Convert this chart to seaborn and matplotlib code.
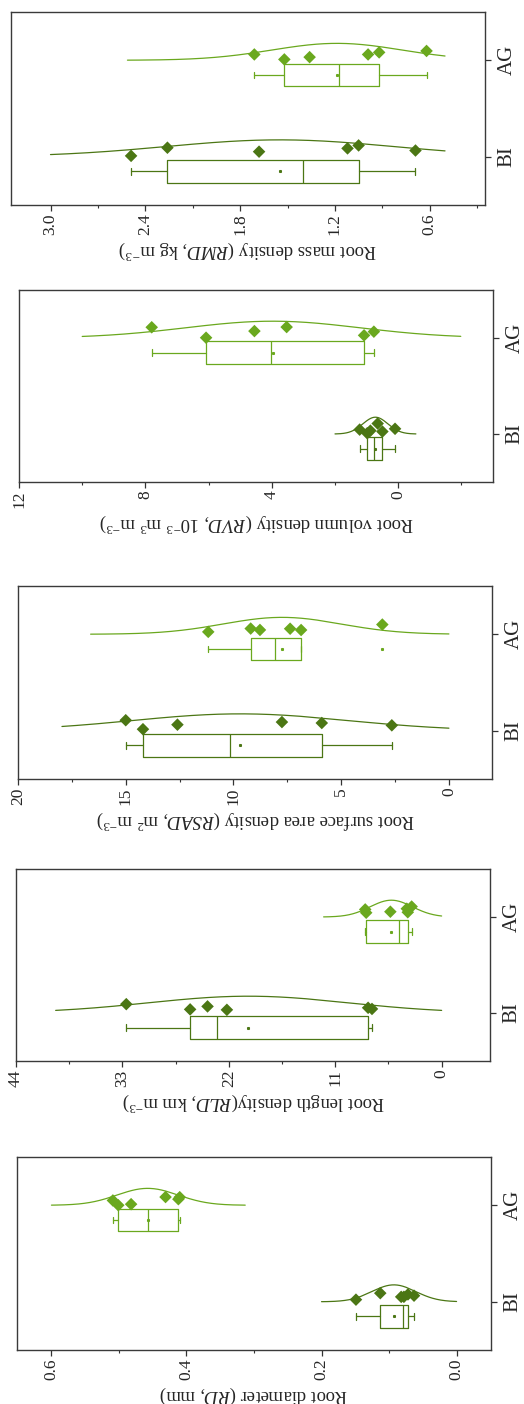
import numpy as np
import pandas as pd
import seaborn as sns
import matplotlib.pyplot as plt

# groups and colours
groups = ['BI', 'AG']
colors = {'BI': '#4b7614', 'AG': '#6aa81e'}

# values (6 plots per group)
rd_bi = [0.149, 0.113, 0.082, 0.078, 0.072, 0.063]
rd_ag = [0.509, 0.501, 0.482, 0.431, 0.412, 0.410]
rld_bi = [32.6, 26.0, 24.2, 22.2, 7.6, 7.2]
rld_ag = [7.9, 7.8, 5.3, 3.6, 3.5, 3.1]
rsad_bi = [15.0, 14.2, 12.6, 7.75, 5.9, 2.65]
rsad_ag = [11.17, 9.2, 8.77, 7.37, 6.86, 3.09]
rvd_bi = [1.22, 0.98, 0.88, 0.65, 0.50, 0.10]
rvd_ag = [7.8, 6.08, 4.55, 3.53, 1.08, 0.77]
rmd_bi = [2.49, 2.26, 1.68, 1.12, 1.05, 0.69]
rmd_ag = [1.71, 1.52, 1.36, 0.99, 0.92, 0.62]

# range over which the normal curve of each group is drawn (high, low)
rd_curve = [(0.2, 0.0), (0.6, 0.313)]
rld_curve = [(39.9, 0.0), (12.2, 0.0)]
rsad_curve = [(17.96, 0.0), (16.63, 0.0)]
rvd_curve = [(2.0, -0.56), (10.0, -1.98)]
rmd_curve = [(3.0, 0.503), (2.513, 0.503)]

# axis titles and ticks
rd_label = r'Root diameter ($\mathit{RD}$, mm)'
rld_label = r'Root length density($\mathit{RLD}$, km m$^{-3}$)'
rsad_label = r'Root surface area density ($\mathit{RSAD}$, m$^{2}$ m$^{-3}$)'
rvd_label = r'Root volumn density ($\mathit{RVD}$, 10$^{-3}$ m$^{3}$ m$^{-3}$)'
rmd_label = r'Root mass density ($\mathit{RMD}$, kg m$^{-3}$)'

rd_ticks = [0.0, 0.2, 0.4, 0.6]
rld_ticks = [0, 11, 22, 33, 44]
rsad_ticks = [0, 5, 10, 15, 20]
rvd_ticks = [0, 4, 8, 12]
rmd_ticks = [0.6, 1.2, 1.8, 2.4, 3.0]
rd_ticklabels = ['0.0', '0.2', '0.4', '0.6']
rld_ticklabels = ['0', '11', '22', '33', '44']
rsad_ticklabels = ['0', '5', '10', '15', '20']
rvd_ticklabels = ['0', '4', '8', '12']
rmd_ticklabels = ['0.6', '1.2', '1.8', '2.4', '3.0']

sns.set_style('white')
plt.rcParams['font.family'] = ['Liberation Serif', 'DejaVu Serif']
plt.rcParams['mathtext.fontset'] = 'custom'
plt.rcParams['mathtext.rm'] = 'Liberation Serif'
plt.rcParams['mathtext.it'] = 'Liberation Serif:italic'
plt.rcParams['axes.unicode_minus'] = True

np.random.seed(7)  # only for the strip jitter

W, H = 524, 1404
fig = plt.figure(figsize=(W / 100, H / 100), dpi=100)

# panels top to bottom: (values, curves, label, ticks, ticklabels, xlim, frame px)
panels = [
    (rmd_bi, rmd_ag, rmd_curve, rmd_label, rmd_ticks, rmd_ticklabels, (3.25, 0.25), (11, 12, 205)),
    (rvd_bi, rvd_ag, rvd_curve, rvd_label, rvd_ticks, rvd_ticklabels, (12, -3), (19, 290, 482)),
    (rsad_bi, rsad_ag, rsad_curve, rsad_label, rsad_ticks, rsad_ticklabels, (20, -2), (18, 586, 779)),
    (rld_bi, rld_ag, rld_curve, rld_label, rld_ticks, rld_ticklabels, (44, -5), (16, 869, 1061)),
    (rd_bi, rd_ag, rd_curve, rd_label, rd_ticks, rd_ticklabels, (0.651, -0.051), (17, 1157, 1350)),
]


def hinge_stats(vals):
    v = np.sort(np.asarray(vals, dtype=float))
    n = len(v)
    half = (n + 1) // 2
    q1 = np.median(v[:half])
    q3 = np.median(v[n - half:])
    iqr = q3 - q1
    lo_f, hi_f = q1 - 1.5 * iqr, q3 + 1.5 * iqr
    inside = v[(v >= lo_f) & (v <= hi_f)]
    return dict(med=np.median(v), q1=q1, q3=q3, whislo=inside.min(),
                whishi=inside.max(), mean=v.mean(),
                fliers=v[(v < lo_f) | (v > hi_f)])


for bi, ag, curves, label, ticks, ticklabels, xlim, frame in panels:
    x0, ytop, ybot = frame
    ax = fig.add_axes([x0 / W, 1 - ybot / H, 474 / W, (ybot - ytop) / H])

    df = pd.DataFrame({'group': ['BI'] * len(bi) + ['AG'] * len(ag),
                       'value': bi + ag})

    # diamonds
    sns.stripplot(data=df, x='value', y='group', order=groups, hue='group',
                  hue_order=groups, palette=colors, marker='D', size=6.4,
                  jitter=0.06, linewidth=0, legend=False, ax=ax, zorder=4)
    for coll in ax.collections:
        off = coll.get_offsets()
        off[:, 1] += 0.06
        coll.set_offsets(off)

    for i, (g, vals) in enumerate(zip(groups, [bi, ag])):
        c = colors[g]
        vals = np.asarray(vals)
        mu, sd = vals.mean(), vals.std(ddof=1)
        hi, lo = curves[i]
        xs = np.linspace(lo, hi, 300)
        ys = i + 0.175 * np.exp(-0.5 * ((xs - mu) / sd) ** 2)
        sns.lineplot(x=xs, y=ys, color=c, lw=0.9, ax=ax, zorder=3)

        st = hinge_stats(vals)
        lp = dict(color=c, lw=0.9)
        dot = dict(marker='s', markersize=1.2, markerfacecolor=c,
                   markeredgecolor=c, linestyle='none')
        ax.bxp([st], positions=[i - 0.152], widths=0.235,
               orientation='horizontal', showmeans=True,
               boxprops=lp, whiskerprops=lp, capprops=lp, medianprops=lp,
               meanprops=dot, flierprops=dot, capwidths=0.07,
               manage_ticks=False)

    ax.set_ylim(-0.5, 1.5)
    ax.set_xlim(*xlim)

    ax.set_xticks(ticks)
    ax.set_xticklabels(ticklabels, rotation=90, fontsize=12.5)
    step = ticks[1] - ticks[0]
    minors = [t + step / 2 for t in ticks[:-1]]
    if xlim[1] < ticks[0] - step / 2 + 1e-9:
        minors.append(ticks[0] - step / 2)
    ax.set_xticks(minors, minor=True)
    ax.tick_params(axis='x', which='major', direction='out', length=4,
                   width=0.9, pad=2, color='#333333', bottom=True)
    ax.tick_params(axis='x', which='minor', direction='out', length=2.5,
                   width=0.8, color='#333333', bottom=True)

    ax.yaxis.tick_right()
    ax.set_yticks([0, 1])
    ax.set_yticklabels(groups, rotation=90, va='center', fontsize=15)
    ax.tick_params(axis='y', direction='out', length=4, width=0.9, pad=5,
                   color='#333333', right=True, left=False)

    ax.set_ylabel('')
    ax.set_xlabel(label, rotation=180, fontsize=13.5, labelpad=3)

    for sp in ax.spines.values():
        sp.set_visible(True)
        sp.set_color('#3a3a3a')
        sp.set_linewidth(1.0)

fig.savefig('out.png', dpi=100)
